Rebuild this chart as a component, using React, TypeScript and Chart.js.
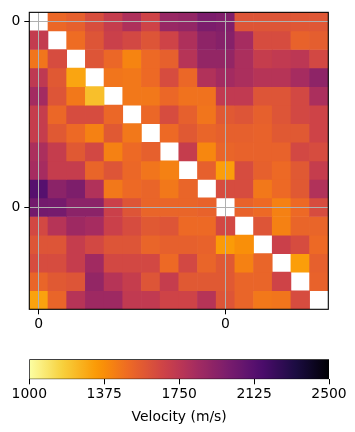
import React, { useEffect, useRef } from 'react';
import { Chart, registerables } from 'chart.js';

Chart.register(...registerables);

// ---- data (velocity in m/s, null = no value on the diagonal) ----
const row00 = [null, 1510, 1540, 1620, 1710, 1800, 1670, 1880, 1900, 1990, 1970, 1590, 1590, 1590, 1580, 1580];
const row01 = [1720, null, 1490, 1590, 1690, 1650, 1590, 1670, 1800, 1920, 1950, 1830, 1630, 1630, 1530, 1550];
const row02 = [1460, 1630, null, 1590, 1510, 1410, 1500, 1540, 1770, 1900, 1900, 1810, 1710, 1730, 1750, 1650];
const row03 = [1740, 1570, 1300, null, 1460, 1450, 1500, 1630, 1510, 1790, 1840, 1810, 1770, 1770, 1830, 1920];
const row04 = [1840, 1590, 1450, 1220, null, 1450, 1450, 1510, 1470, 1470, 1730, 1730, 1590, 1590, 1650, 1810];
const row05 = [1710, 1510, 1630, 1630, 1510, null, 1510, 1630, 1540, 1460, 1570, 1590, 1540, 1590, 1650, 1670];
const row06 = [1710, 1570, 1500, 1420, 1570, 1450, null, 1500, 1570, 1520, 1540, 1540, 1530, 1570, 1570, 1670];
const row07 = [1810, 1710, 1570, 1650, 1420, 1500, 1540, null, 1710, 1400, 1520, 1530, 1530, 1530, 1650, 1630];
const row08 = [1830, 1710, 1710, 1520, 1590, 1510, 1460, 1420, null, 1540, 1320, 1630, 1540, 1500, 1570, 1710];
const row09 = [2130, 1930, 1980, 1790, 1450, 1500, 1520, 1450, 1520, null, 1630, 1630, 1450, 1500, 1570, 1790];
const row10 = [2020, 2010, 1930, 1930, 1690, 1590, 1520, 1520, 1520, 1530, null, 1530, 1500, 1420, 1500, 1630];
const row11 = [1650, 1770, 1860, 1830, 1690, 1630, 1570, 1590, 1500, 1500, 1650, null, 1590, 1420, 1520, 1520];
const row12 = [1590, 1590, 1710, 1650, 1590, 1590, 1520, 1540, 1540, 1530, 1330, 1370, null, 1690, 1630, 1500];
const row13 = [1630, 1630, 1710, 1850, 1650, 1650, 1650, 1500, 1650, 1520, 1570, 1420, 1520, null, 1320, 1540];
const row14 = [1520, 1570, 1590, 1900, 1770, 1710, 1590, 1710, 1570, 1570, 1570, 1520, 1520, 1670, null, 1530];
const row15 = [1310, 1520, 1770, 1860, 1860, 1730, 1730, 1670, 1670, 1770, 1590, 1520, 1450, 1460, 1630, null];
const rows = [row00, row01, row02, row03, row04, row05, row06, row07, row08, row09, row10, row11, row12, row13, row14, row15];

const xTickPositions = [0, 10];
const xTickLabels = ['0', '0'];
const yTickPositions = [0, 10];
const yTickLabels = ['0', '0'];

const vMin = 1000;
const vMax = 2500;
const colorbarTicks = [1000, 1375, 1750, 2125, 2500];
const colorbarLabel = 'Velocity (m/s)';

// ---- colormap (inferno, reversed) ----
const INFERNO: [number, string][] = [
  [0, '#000004'], [1 / 9, '#1b0c42'], [2 / 9, '#4b0c6b'], [0.25, '#57106e'], [3 / 9, '#781c6d'],
  [4 / 9, '#a52c60'], [0.5, '#bc3754'], [5 / 9, '#cf4446'], [6 / 9, '#ed6925'], [0.75, '#f98e09'],
  [7 / 9, '#fb9a06'], [8 / 9, '#f7d03c'], [1, '#fcffa4'],
];
const hex = (h: string) => [1, 3, 5].map((i) => parseInt(h.slice(i, i + 2), 16));
function inferno(s: number) {
  s = Math.max(0, Math.min(1, s));
  for (let i = 1; i < INFERNO.length; i++) {
    const [p1, c1] = INFERNO[i];
    const [p0, c0] = INFERNO[i - 1];
    if (s <= p1) {
      const f = (s - p0) / (p1 - p0);
      const a = hex(c0), b = hex(c1);
      const c = a.map((v, k) => Math.round(v + (b[k] - v) * f));
      return `rgb(${c[0]},${c[1]},${c[2]})`;
    }
  }
  return '#fcffa4';
}
const cmap = (v: number) => inferno(1 - (v - vMin) / (vMax - vMin));

const FONT = { family: 'DejaVu Sans', size: 13.9 };

const framePlugin = {
  id: 'frame',
  afterDraw(chart: any) {
    const { ctx, chartArea } = chart;
    const { left, top, right, bottom } = chartArea;
    ctx.save();
    ctx.strokeStyle = '#000';
    ctx.lineWidth = 1.1;
    ctx.strokeRect(left, top, right - left, bottom - top);
    ctx.restore();
  },
};

export default function App() {
  const heatRef = useRef<HTMLCanvasElement>(null);
  const barRef = useRef<HTMLCanvasElement>(null);

  useEffect(() => {
    const datasets = rows.map((row, r) => {
      const pts: any[] = [];
      const cols: string[] = [];
      row.forEach((v, c) => {
        if (v == null) return;
        pts.push({ x: c, y: [r - 0.5, r + 0.5] });
        cols.push(cmap(v));
      });
      return {
        data: pts,
        backgroundColor: cols,
        borderWidth: 0,
        grouped: false,
        barPercentage: 1,
        categoryPercentage: 1,
      };
    });

    const heat = new Chart(heatRef.current!, {
      type: 'bar',
      data: { datasets } as any,
      plugins: [framePlugin],
      options: {
        responsive: false,
        animation: false,
        events: [],
        layout: { padding: { left: 0, top: 9.3, right: 26.7, bottom: 0 } },
        plugins: { legend: { display: false }, tooltip: { enabled: false } },
        scales: {
          x: {
            type: 'linear',
            min: -0.5,
            max: 15.5,
            offset: false,
            afterBuildTicks: (s: any) => { s.ticks = xTickPositions.map((v) => ({ value: v })); },
            afterFit: (s: any) => { s.height = 30.7; },
            ticks: {
              font: FONT, color: '#000', padding: 2, maxRotation: 0, autoSkip: false,
              callback: (_v: any, i: number) => xTickLabels[i],
            },
            grid: { color: '#b0b0b0', lineWidth: 1, z: 1, offset: false, drawTicks: true, tickLength: 5, tickColor: '#000', tickWidth: 1 },
            border: { display: false },
          },
          y: {
            type: 'linear',
            min: -0.5,
            max: 15.5,
            reverse: true,
            beginAtZero: false,
            afterBuildTicks: (s: any) => { s.ticks = yTickPositions.map((v) => ({ value: v })); },
            afterFit: (s: any) => { s.width = 29.3; },
            ticks: {
              font: FONT, color: '#000', padding: 4, autoSkip: false,
              callback: (_v: any, i: number) => yTickLabels[i],
            },
            grid: { color: '#b0b0b0', lineWidth: 1, z: 1, drawTicks: true, tickLength: 5, tickColor: '#000', tickWidth: 1 },
            border: { display: false },
          },
        },
      } as any,
    });

    const gradientFor = (chart: any) => {
      const area = chart.chartArea;
      if (!area) return '#f98e09';
      const g = chart.ctx.createLinearGradient(area.left, 0, area.right, 0);
      const n = 64;
      for (let i = 0; i <= n; i++) {
        g.addColorStop(i / n, cmap(vMin + ((vMax - vMin) * i) / n));
      }
      return g;
    };

    const bar = new Chart(barRef.current!, {
      type: 'bar',
      data: {
        labels: [''],
        datasets: [{
          data: [[vMin, vMax]],
          backgroundColor: (c: any) => gradientFor(c.chart),
          borderColor: '#000',
          borderWidth: 1,
          borderSkipped: false,
          barPercentage: 1,
          categoryPercentage: 1,
        }],
      } as any,
      options: {
        indexAxis: 'y',
        responsive: false,
        animation: false,
        events: [],
        layout: { padding: { left: 29.3, right: 26, top: 19.3, bottom: 0 } },
        plugins: { legend: { display: false }, tooltip: { enabled: false } },
        scales: {
          x: {
            type: 'linear',
            min: vMin,
            max: vMax,
            afterBuildTicks: (s: any) => { s.ticks = colorbarTicks.map((v) => ({ value: v })); },
            afterFit: (s: any) => { s.height = 52.7; },
            ticks: { font: FONT, color: '#000', padding: 2, maxRotation: 0, autoSkip: false, callback: (v: any) => String(v) },
            grid: { drawOnChartArea: false, drawTicks: true, tickLength: 5, tickColor: '#000', tickWidth: 1 },
            border: { display: false },
            title: { display: true, text: colorbarLabel, font: FONT, color: '#000', padding: { top: 4, bottom: 6.5 } },
          },
          y: { display: false },
        },
      } as any,
    });

    return () => { heat.destroy(); bar.destroy(); };
  }, []);

  return (
    <div style={{ position: 'fixed', left: 0, top: 0, width: 355, height: 432, background: '#fff' }}>
      <canvas ref={heatRef} width={355} height={340} style={{ position: 'absolute', left: 0, top: 0, width: 355, height: 340 }} />
      <canvas ref={barRef} width={355} height={92} style={{ position: 'absolute', left: 0, top: 340, width: 355, height: 92 }} />
    </div>
  );
}
